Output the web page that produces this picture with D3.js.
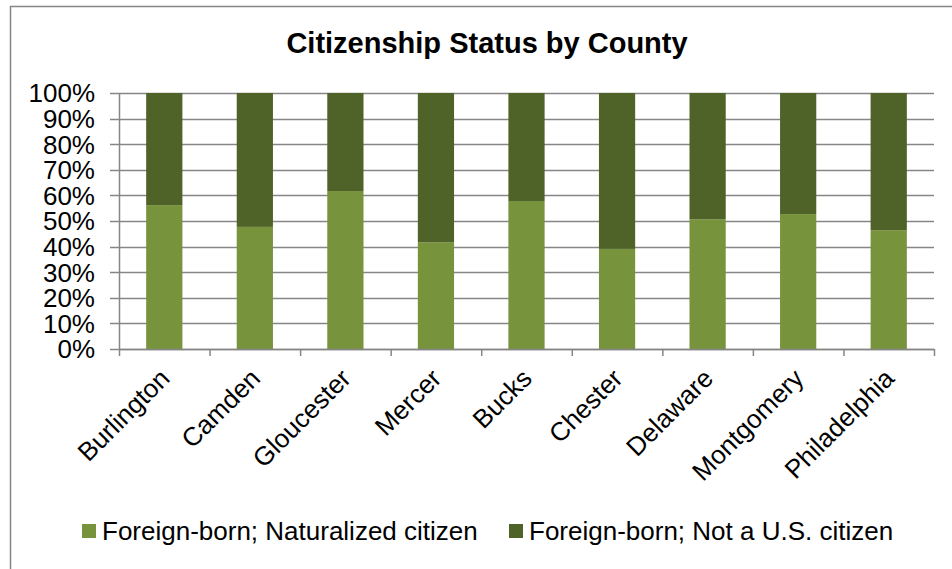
<!DOCTYPE html>
<html>
<head>
<meta charset="utf-8">
<script src="https://cdn.jsdelivr.net/npm/d3@7"></script>
<style>
  body { margin: 0; background: #fff; }
  text { font-family: "Liberation Sans", Arial, sans-serif; fill: #000; }
</style>
</head>
<body>
<div id="chart"></div>
<script>
let counties = ["Burlington", "Camden", "Gloucester", "Mercer", "Bucks", "Chester", "Delaware", "Montgomery", "Philadelphia"]
let naturalized = [56.2, 47.7, 61.7, 41.7, 57.8, 39.1, 50.7, 52.7, 46.4]
let notCitizen = naturalized.map(v => 100 - v)
let seriesNames = ["Foreign-born; Naturalized citizen", "Foreign-born; Not a U.S. citizen"]
let colors = ["#77933c", "#4f6228"]
let yTicks = [0, 10, 20, 30, 40, 50, 60, 70, 80, 90, 100]

let W = 952, H = 569
let margin = { top: 93, right: 18, bottom: 220, left: 119 }
let width = 934 - margin.left
let height = 349 - margin.top

let root = d3.select("#chart").append("svg")
    .attr("width", W)
    .attr("height", H)

// outer chart border (only top/left visible in the frame)
root.append("rect")
    .attr("x", 10.5).attr("y", 6.5)
    .attr("width", 1000).attr("height", 1000)
    .attr("fill", "none")
    .attr("stroke", "#868686")
    .attr("stroke-width", 1.5)

root.append("text")
    .attr("x", 487).attr("y", 53)
    .attr("text-anchor", "middle")
    .style("font-size", "29px")
    .style("font-weight", "bold")
    .text("Citizenship Status by County")

let svg = root.append("g")
    .attr("transform", "translate(" + margin.left + "," + margin.top + ")")

let x = d3.scaleBand().domain(counties).range([0, width]).paddingInner(0.6).paddingOuter(0.3)
let y = d3.scaleLinear().domain([0, 100]).range([height, 0])

// gridlines
svg.append("g")
    .selectAll("line")
    .data(yTicks)
    .join("line")
    .attr("x1", -9)
    .attr("x2", width)
    .attr("y1", d => Math.round(y(d)) + 0.5)
    .attr("y2", d => Math.round(y(d)) + 0.5)
    .attr("stroke", "#868686")
    .attr("stroke-width", 1.5)

let stacked = d3.stack().keys([0, 1])(counties.map((c, i) => ({ county: c, 0: naturalized[i], 1: notCitizen[i] })))

svg.append("g")
    .selectAll("g")
    .data(stacked)
    .join("g")
    .attr("fill", (d, i) => colors[i])
    .selectAll("rect")
    .data(d => d)
    .join("rect")
    .attr("x", d => x(d.data.county))
    .attr("width", x.bandwidth())
    .attr("y", d => y(d[1]))
    .attr("height", d => y(d[0]) - y(d[1]))

// y axis line + labels
svg.append("line")
    .attr("x1", 0.5).attr("x2", 0.5)
    .attr("y1", 0).attr("y2", height)
    .attr("stroke", "#868686")
    .attr("stroke-width", 1.5)

svg.append("g")
    .selectAll("text")
    .data(yTicks)
    .join("text")
    .attr("x", -24)
    .attr("y", d => y(d))
    .attr("dy", "0.36em")
    .attr("text-anchor", "end")
    .style("font-size", "26px")
    .text(d => d + "%")

// x axis
let xStep = width / counties.length
svg.append("line")
    .attr("x1", 0).attr("x2", width)
    .attr("y1", height + 0.5).attr("y2", height + 0.5)
    .attr("stroke", "#868686")
    .attr("stroke-width", 1.5)
svg.append("g")
    .selectAll("line")
    .data(d3.range(counties.length + 1))
    .join("line")
    .attr("x1", d => d * xStep + 0.5)
    .attr("x2", d => d * xStep + 0.5)
    .attr("y1", height)
    .attr("y2", height + 7)
    .attr("stroke", "#868686")
    .attr("stroke-width", 1.5)

svg.append("g")
    .selectAll("text")
    .data(counties)
    .join("text")
    .attr("text-anchor", "end")
    .attr("transform", d => "translate(" + (x(d) + x.bandwidth() / 2 + 7) + "," + (height + 31) + ") rotate(-45)")
    .style("font-size", "26px")
    .text(d => d)

// legend
let legend = root.append("g").attr("transform", "translate(0,531)")
let legendX = [82, 509]
seriesNames.forEach((name, i) => {
    legend.append("rect")
        .attr("x", legendX[i]).attr("y", -7)
        .attr("width", 14).attr("height", 14)
        .attr("fill", colors[i])
    legend.append("text")
        .attr("x", legendX[i] + 20).attr("y", 0)
        .attr("dy", "0.36em")
        .style("font-size", "26px")
        .text(name)
})
</script>
</body>
</html>
